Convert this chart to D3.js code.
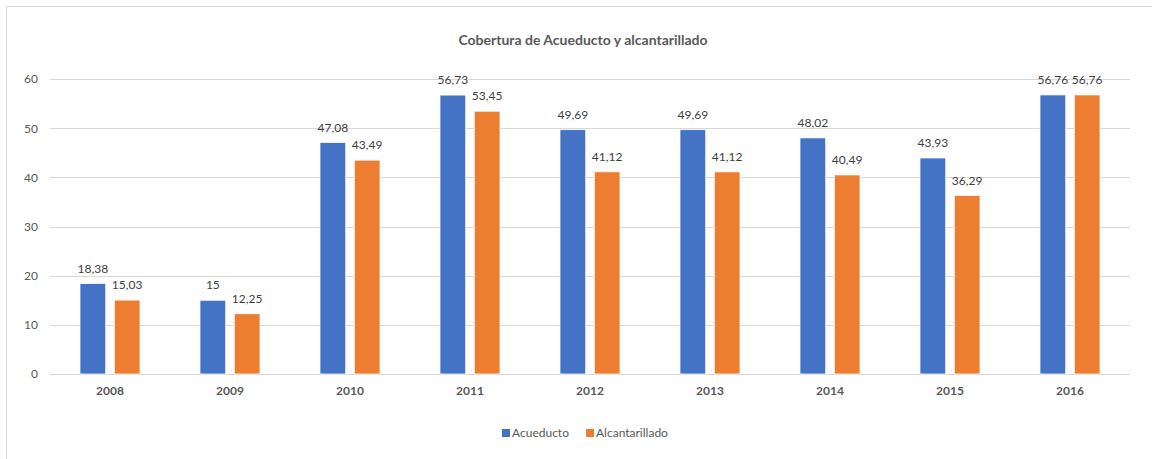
<!DOCTYPE html>
<html><head><meta charset="utf-8">
<script src="https://cdn.jsdelivr.net/npm/d3@7"></script>
<style>body{margin:0;background:#fff;}svg{display:block;font-family:Lato,"Open Sans",sans-serif;}</style>
</head><body><svg id="c" width="1152" height="459"></svg>
<script>
const years = ["2008","2009","2010","2011","2012","2013","2014","2015","2016"];
const acueducto = [18.38,15,47.08,56.73,49.69,49.69,48.02,43.93,56.76];
const alcantarillado = [15.03,12.25,43.49,53.45,41.12,41.12,40.49,36.29,56.76];
const seriesNames = ["Acueducto","Alcantarillado"];
const colors = ["#4472C4","#ED7D31"];
const yTicks = [0,10,20,30,40,50,60];
const title = "Cobertura de Acueducto y alcantarillado";

const svg = d3.select("#c");
svg.append("rect").attr("x",6.5).attr("y",6.5).attr("width",1160).attr("height",470)
  .attr("fill","#fff").attr("stroke","#d9d9d9").attr("stroke-width",1);

const pL=50, pR=1130, pT=79, pB=374;
const y = d3.scaleLinear().domain([0,60]).range([pB,pT]);
const x0 = d3.scaleBand().domain(years).range([pL,pR]).paddingInner(0.5).paddingOuter(0.25);
const x1 = d3.scaleBand().domain(seriesNames).range([0,x0.bandwidth()]).paddingInner(0.25);

svg.append("g").selectAll("line").data(yTicks).join("line")
  .attr("x1",pL).attr("x2",pR)
  .attr("y1",d=>Math.round(y(d))+0.5).attr("y2",d=>Math.round(y(d))+0.5)
  .attr("stroke","#d9d9d9").attr("stroke-width",1);

const yAxis = d3.axisLeft(y).tickValues(yTicks).tickSize(0).tickPadding(0);
const ga = svg.append("g").attr("transform",`translate(38,0)`).call(yAxis);
ga.select(".domain").remove();
ga.selectAll("text").attr("fill","#595959").style("font-size","12px").style("font-family","Lato,sans-serif");

const xAxis = d3.axisBottom(x0).tickSize(0).tickPadding(0);
const gx = svg.append("g").attr("transform",`translate(0,${pB+12})`).call(xAxis);
gx.select(".domain").remove();
gx.selectAll("text").attr("fill","#595959").style("font-size","12px").style("font-weight","bold").style("font-family","Lato,sans-serif");

const data = years.map((yr,i)=>({year:yr, vals:[acueducto[i],alcantarillado[i]]}));
const groups = svg.append("g").selectAll("g").data(data).join("g")
  .attr("transform",d=>`translate(${x0(d.year)},0)`);
groups.selectAll("rect").data(d=>d.vals.map((v,j)=>({s:seriesNames[j],v,j}))).join("rect")
  .attr("x",d=>x1(d.s)).attr("width",x1.bandwidth())
  .attr("y",d=>y(d.v)).attr("height",d=>pB-y(d.v))
  .attr("fill",d=>colors[d.j]).attr("stroke","#fff").attr("stroke-width",0.75);
groups.selectAll("text").data(d=>d.vals.map((v,j)=>({s:seriesNames[j],v,j}))).join("text")
  .attr("x",d=>x1(d.s)+x1.bandwidth()/2).attr("y",d=>y(d.v)-11)
  .attr("text-anchor","middle").attr("fill","#404040").style("font-size","12px")
  .text(d=>String(d.v).replace(".",","));

svg.append("text").attr("x",583).attr("y",45).attr("text-anchor","middle")
  .attr("fill","#595959").style("font-size","14px").style("font-weight","bold").text(title);

const legX=[502,586];
const lg = svg.append("g").selectAll("g").data(seriesNames).join("g")
  .attr("transform",(d,i)=>`translate(${legX[i]},0)`);
lg.append("rect").attr("x",0).attr("y",429).attr("width",8).attr("height",8).attr("fill",(d,i)=>colors[i]);
lg.append("text").attr("x",10).attr("y",437).attr("fill","#595959").style("font-size","12px").text(d=>d);
</script></body></html>
